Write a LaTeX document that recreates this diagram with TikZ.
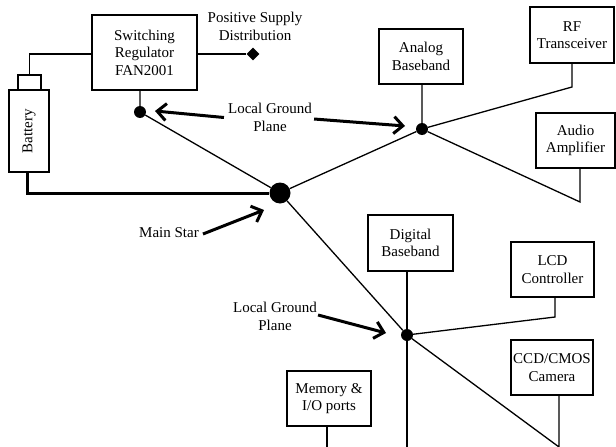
\documentclass[tikz,border=0pt]{standalone}
\usepackage{fontspec}
\setmainfont{Liberation Serif}
\usetikzlibrary{shapes.geometric,arrows.meta}
\begin{document}
\begin{tikzpicture}[x=1pt,y=-1pt,
  txt/.style={font=\fontsize{15}{17.5}\selectfont, align=center, inner sep=0pt},
  thickbox/.style={txt, draw, line width=2.2pt},
  thinbox/.style={txt, draw, line width=1.2pt},
  wire/.style={line width=1.3pt},
  heavywire/.style={line width=3pt},
  gdot/.style={circle, fill, inner sep=0pt, minimum size=12pt},
  pointer/.style={line width=3pt, -{Straight Barb[length=9pt,width=17pt]}}
]
\useasboundingbox (0,0) rectangle (616,447);

% boxes
\node[thickbox, minimum width=105, minimum height=75] (reg) at (144.5,52.5) {Switching\\Regulator\\FAN2001};
\node[thickbox, minimum width=84, minimum height=55] (analog) at (421,56.5) {Analog\\Baseband};
\node[thinbox, minimum width=84, minimum height=56] (rf) at (572,35) {RF\\Transceiver};
\node[thinbox, minimum width=79, minimum height=55] (audio) at (575.5,140.5) {Audio\\Amplifier};
\node[thickbox, minimum width=85, minimum height=56] (digital) at (410.5,243) {Digital\\Baseband};
\node[thinbox, minimum width=83, minimum height=55] (lcd) at (552.5,269.5) {LCD\\Controller};
\node[thinbox, minimum width=82, minimum height=55] (cam) at (552,367.5) {CCD/CMOS\\Camera};
\node[thinbox, minimum width=84, minimum height=55] (mem) at (329,398.5) {Memory \&\\I/O ports};
\node[thinbox, rotate=90, minimum width=82, minimum height=40] (batt) at (29,131) {Battery};
\node[draw, line width=1.2pt, minimum width=23, minimum height=15, inner sep=0pt] (cap) at (29.5,82.5) {};

% labels
\node[txt] (psd) at (255,26.5) {Positive Supply\\Distribution};
\node[txt] (lgp1) at (270,117.5) {Local Ground\\Plane};
\node[txt] (ms) at (169,233) {Main Star};
\node[txt] (lgp2) at (275,316.5) {Local Ground\\Plane};

% dots
\node[gdot] (d1) at (140,112) {};
\node[gdot, minimum size=21pt] (star) at (280,193) {};
\node[gdot] (d2) at (422,129) {};
\node[gdot] (d3) at (407,335) {};
\node[diamond, fill, inner sep=0pt, minimum width=13pt, minimum height=13pt] (diam) at (253,54) {};

% corner coordinates
\coordinate (rfk) at (572,87);
\coordinate (auk) at (580,202);
\coordinate (lk) at (555,317);
\coordinate (ck) at (559,447);
\coordinate (db) at (407,447);
\coordinate (mb) at (327,447);
\coordinate (bk) at (27,193);
\coordinate (h1) at (155,111);
\coordinate (h2) at (405,126);
\coordinate (h3) at (264,210);
\coordinate (h4) at (386,333);

% wires
\draw[wire] (reg.east |- diam) -- (diam);
\draw[wire] (reg.west |- diam) -| (cap.north);
\draw[heavywire] (batt.west -| bk) -- (bk) -- (star);
\draw[wire] (reg.south -| d1) -- (d1) -- (star);
\draw[wire] (analog.south -| d2) -- (d2) -- (star);
\draw[wire] (rf.south -| rfk) -- (rfk) -- (d2);
\draw[wire] (audio.south -| auk) -- (auk) -- (d2);
\draw[wire] (star) -- (d3);
\draw[wire] (digital.south -| d3) -- (db);
\draw[wire] (lcd.south -| lk) -- (lk) -- (d3);
\draw[wire] (cam.south -| ck) -- (ck) -- (d3);
\draw[wire] (mem.south -| mb) -- (mb);

% pointers
\draw[pointer] ([xshift=-4pt]lgp1.west) -- (h1);
\draw[pointer] ([xshift=2pt,yshift=-1.5pt]lgp1.east) -- (h2);
\draw[pointer] ([xshift=4pt,yshift=-1pt]ms.east) -- (h3);
\draw[pointer] ([xshift=1pt,yshift=1.5pt]lgp2.east) -- (h4);
\end{tikzpicture}
\end{document}
